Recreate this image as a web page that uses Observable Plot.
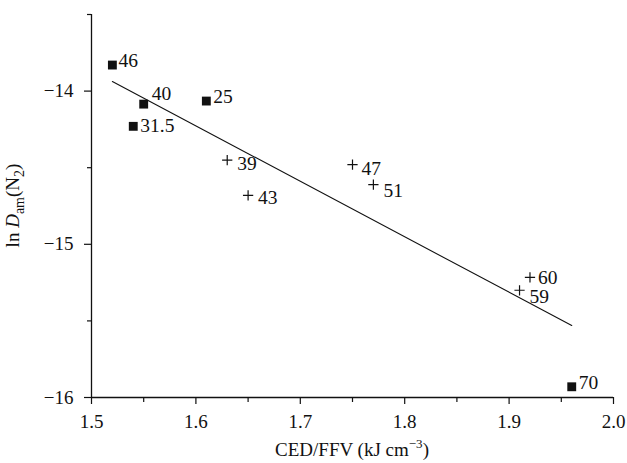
<!DOCTYPE html>
<html>
<head>
<meta charset="utf-8">
<script src="https://cdn.jsdelivr.net/npm/d3@7"></script>
<script src="https://cdn.jsdelivr.net/npm/@observablehq/plot@0.6"></script>
<style>
  html, body { margin: 0; padding: 0; background: #fff; }
  svg { display: block; }
</style>
</head>
<body>
<div id="chart"></div>
<script>
// Data
const labels = ["46", "40", "25", "31.5", "39", "43", "47", "51", "60", "59", "70"];
const ced = [1.52, 1.55, 1.61, 1.54, 1.63, 1.65, 1.75, 1.77, 1.92, 1.91, 1.96];
const lnD = [-13.83, -14.085, -14.065, -14.23, -14.45, -14.68, -14.48, -14.61, -15.216, -15.30, -15.93];
const markerType = ["square", "square", "square", "square", "plus", "plus", "plus", "plus", "plus", "plus", "square"];
const xTicks = [1.5, 1.6, 1.7, 1.8, 1.9, 2.0];
const xMinorTicks = [1.55, 1.65, 1.75, 1.85, 1.95];
const yTicks = [-16, -15, -14];
const yMinorTicks = [-15.5, -14.5, -13.5];

const rows = labels.map((l, i) => ({label: l, x: ced[i], y: lnD[i], type: markerType[i]}));

// label offsets (pixels) – styling only
const off = {
  "46": [6, -4], "40": [8, -10], "25": [7, -4], "31.5": [7, -1],
  "39": [10, 4], "43": [10, 2], "47": [9, 4], "51": [10, 6],
  "60": [8, 0], "59": [10, 6], "70": [7, -4]
};

const W = 627, H = 463;
const mL = 91, mR = 14, mT = 14, mB = 66;
const FONT = "'Liberation Serif', 'DejaVu Serif', serif";

const labelMarks = rows.map(d => Plot.text([d], {
  x: "x", y: "y", text: "label", textAnchor: "start", lineAnchor: "middle",
  dx: off[d.label][0], dy: off[d.label][1], fontSize: 19.5, fill: "#111"
}));

const plot = Plot.plot({
  width: W, height: H,
  marginLeft: mL, marginRight: mR, marginTop: mT, marginBottom: mB,
  style: {fontFamily: FONT, fontSize: "19px", color: "#111", background: "#fff"},
  x: {domain: [1.5, 2.0], label: null},
  y: {domain: [-16, -13.5], label: null},
  marks: [
    Plot.ruleX([1.5], {stroke: "#111", strokeWidth: 1.3}),
    Plot.ruleY([-16], {stroke: "#111", strokeWidth: 1.3}),
    Plot.axisX({ticks: xTicks, tickSize: 7, tickPadding: 10, tickFormat: d3.format(".1f"), label: null, fontSize: 19, stroke: "#111", strokeWidth: 1.2}),
    Plot.axisX({ticks: xMinorTicks, tickSize: 5, tickFormat: () => "", label: null, stroke: "#111", strokeWidth: 1.2}),
    Plot.axisY({ticks: yTicks, tickSize: 7, tickPadding: 11, tickFormat: d => d3.format("d")(d).replace("-", "\u2212"), label: null, fontSize: 19, stroke: "#111", strokeWidth: 1.2}),
    Plot.axisY({ticks: yMinorTicks, tickSize: 4, tickFormat: () => "", label: null, stroke: "#111", strokeWidth: 1.2}),
    Plot.linearRegressionY(rows, {x: "x", y: "y", ci: 0, stroke: "#111", strokeWidth: 1.1}),
    Plot.dot(rows.filter(d => d.type === "square"), {x: "x", y: "y", symbol: "square", r: 5, fill: "#111", stroke: "none"}),
    Plot.dot(rows.filter(d => d.type === "plus"), {x: "x", y: "y", symbol: "plus", r: 3.4, fill: "none", stroke: "#111", strokeWidth: 1.2}),
    ...labelMarks
  ]
});

// Axis titles with italic / subscripts / superscripts as real text
const svg = d3.select(plot);
const xt = svg.append("text")
  .attr("x", mL + (W - mL - mR) / 2).attr("y", 456)
  .attr("text-anchor", "middle")
  .attr("font-family", FONT).attr("font-size", 19).attr("fill", "#111");
xt.append("tspan").text("CED/FFV (kJ cm");
xt.append("tspan").attr("font-size", 13).attr("dy", -8).text("\u22123");
xt.append("tspan").attr("dy", 8).text(")");

const yt = svg.append("text")
  .attr("transform", `translate(19,${mT + (H - mT - mB) / 2}) rotate(-90)`)
  .attr("text-anchor", "middle")
  .attr("font-family", FONT).attr("font-size", 19).attr("fill", "#111");
yt.append("tspan").text("ln ");
yt.append("tspan").attr("font-style", "italic").text("D");
yt.append("tspan").attr("font-size", 14).attr("dy", 5).text("am");
yt.append("tspan").attr("dy", -5).text("(N");
yt.append("tspan").attr("font-size", 14).attr("dy", 5).text("2");
yt.append("tspan").attr("dy", -5).text(")");

document.getElementById("chart").appendChild(plot);
</script>
</body>
</html>
